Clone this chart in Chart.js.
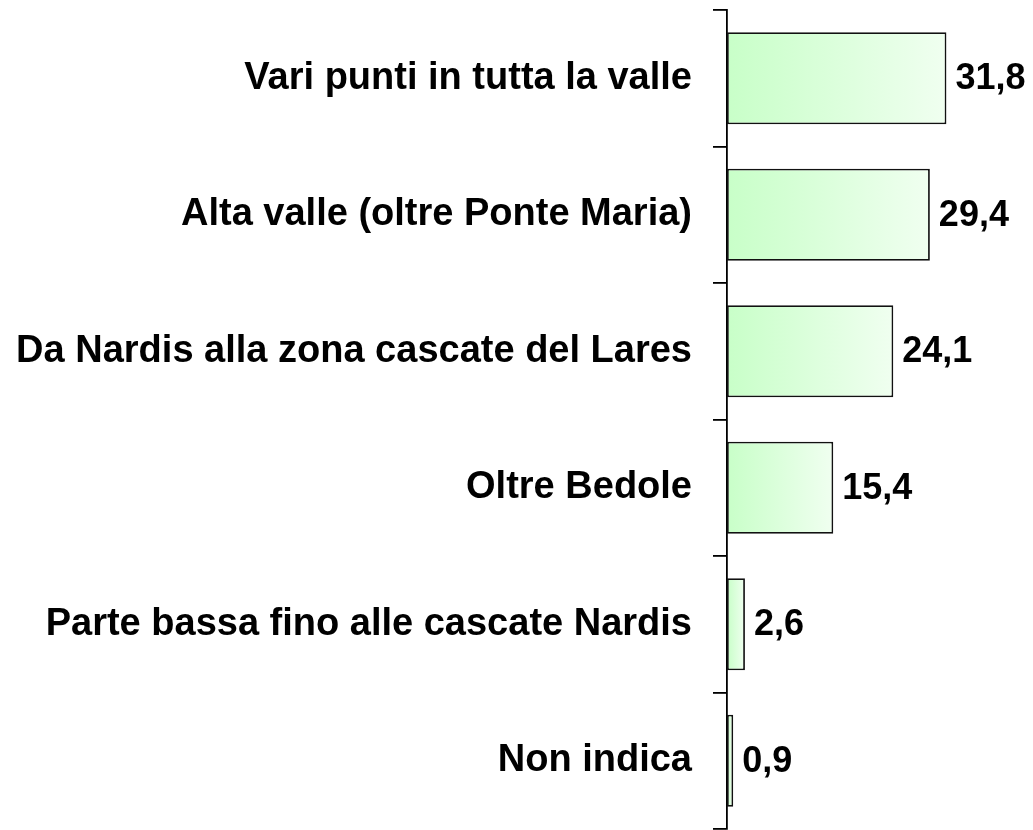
<!DOCTYPE html>
<html>
<head>
<meta charset="utf-8">
<script src="https://cdn.jsdelivr.net/npm/chart.js@4"></script>
<style>
  body { margin: 0; background: #fff; }
  #wrap { width: 1033px; height: 830px; }
</style>
</head>
<body>
<div id="wrap"><canvas id="myChart" width="1033" height="830"></canvas></div>
<script>
// categories top to bottom, with the percent values
const zone = [
    "Vari punti in tutta la valle",
    "Alta valle (oltre Ponte Maria)",
    "Da Nardis alla zona cascate del Lares",
    "Oltre Bedole",
    "Parte bassa fino alle cascate Nardis",
    "Non indica"
];
const percent = [31.8, 29.4, 24.1, 15.4, 2.6, 0.9];
const valueLabels = ["31,8", "29,4", "24,1", "15,4", "2,6", "0,9"];

const fontFam = "'Liberation Sans', Arial, sans-serif";

// every bar gets its own green -> white gradient
function barFill(ctx){
    const chart = ctx.chart;
    if(!chart.chartArea || !chart.scales.x) return '#d4ffd4';
    const x = chart.scales.x;
    const x0 = x.getPixelForValue(0);
    const x1 = x.getPixelForValue(percent[ctx.dataIndex]);
    const g = chart.ctx.createLinearGradient(x0, 0, Math.max(x1, x0 + 1), 0);
    g.addColorStop(0, '#c8ffc8');
    g.addColorStop(1, '#f0fff0');
    return g;
}

// draws the numbers at the end of the bars
const valuePlugin = {
    id: 'valueLabels',
    afterDatasetsDraw(chart){
        const ctx = chart.ctx;
        const meta = chart.getDatasetMeta(0);
        ctx.save();
        ctx.font = "bold 36px " + fontFam;
        ctx.fillStyle = '#000';
        ctx.textAlign = 'left';
        ctx.textBaseline = 'middle';
        meta.data.forEach((bar, i) => {
            ctx.fillText(valueLabels[i], bar.x + 9, bar.y + 1);
        });
        ctx.restore();
    }
};

new Chart("myChart", {
    type: "bar",
    data: {
        labels: zone,
        datasets: [{
            data: percent,
            backgroundColor: barFill,
            borderColor: '#111',
            borderWidth: 1.8,
            borderSkipped: false,
            barPercentage: 0.675,
            categoryPercentage: 1
        }]
    },
    options: {
        indexAxis: 'y',
        responsive: false,
        animation: false,
        layout: { padding: { top: 10, bottom: 1, left: 0, right: 30 } },
        plugins: {
            legend: { display: false },
            tooltip: { enabled: false }
        },
        scales: {
            x: {
                display: false,
                min: 0,
                max: 40
            },
            y: {
                afterFit: (s) => {
                    s.width = 727;
                    s.paddingTop = 0;
                    s.paddingBottom = 0;
                },
                border: { display: true, color: '#000', width: 1.8 },
                grid: {
                    drawOnChartArea: false,
                    drawTicks: true,
                    tickLength: 14,
                    color: '#000',
                    lineWidth: 1.8,
                    offset: true
                },
                ticks: {
                    padding: 21,
                    color: '#000',
                    font: { family: fontFam, size: 38, weight: 'bold' }
                }
            }
        }
    },
    plugins: [valuePlugin]
});
</script>
</body>
</html>
